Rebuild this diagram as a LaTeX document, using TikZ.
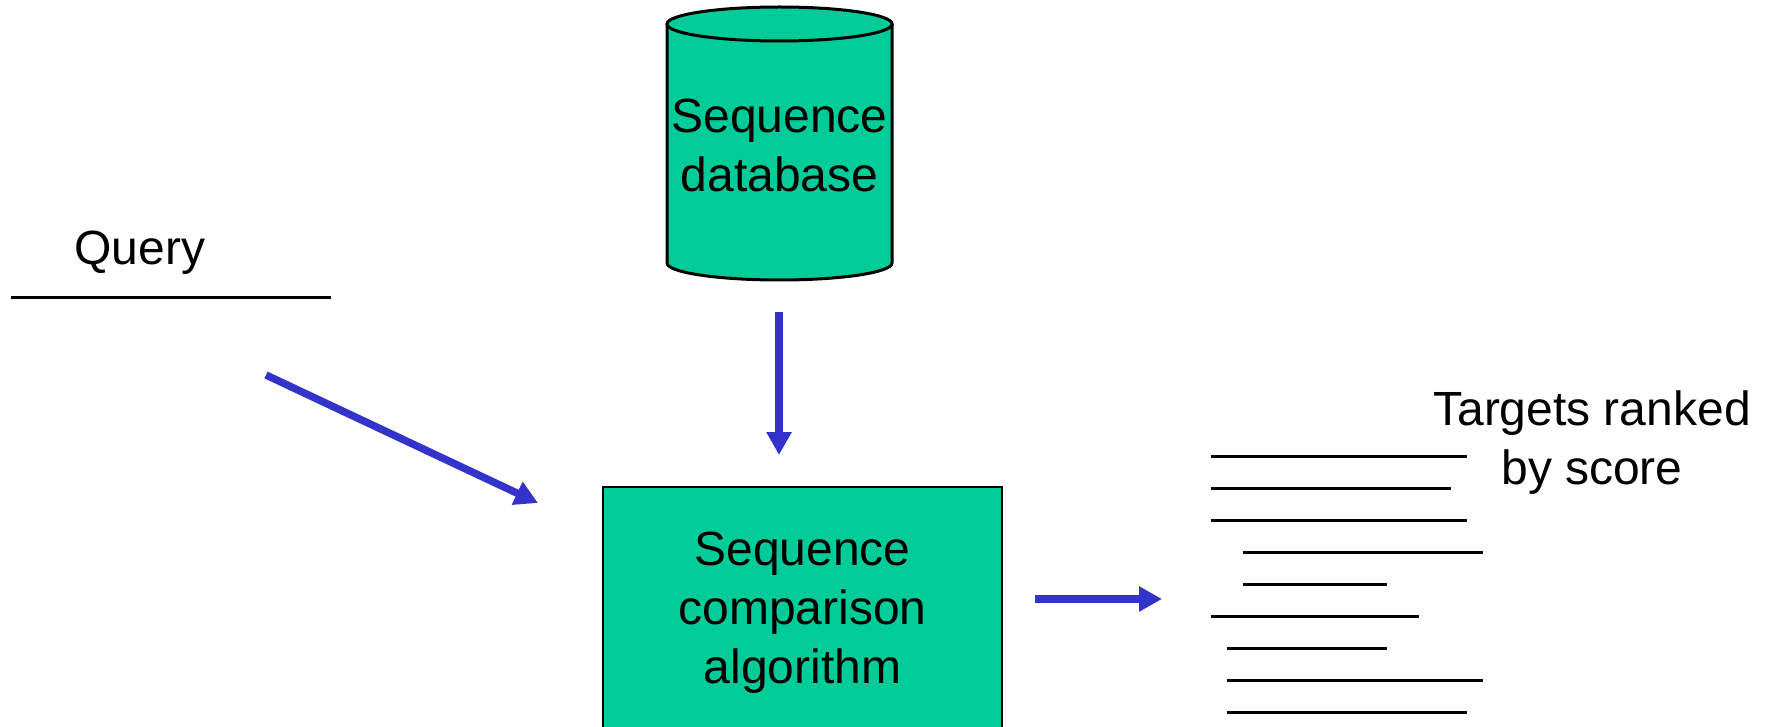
\documentclass[tikz,border=0pt]{standalone}
\usepackage{fontspec}
\setmainfont{Liberation Sans}
\usetikzlibrary{positioning, arrows.meta, calc}
\definecolor{dbgreen}{HTML}{00CC99}
\definecolor{flowblue}{HTML}{3333CC}

\begin{document}
\begin{tikzpicture}[
  x=0.5pt, y=-0.5pt,
  >={Triangle[length=11.5pt, width=12pt]},
  every node/.style={font=\fontsize{24}{29.5}\selectfont, inner sep=0pt},
  txt/.style     = {align=center},
  algobox/.style = {txt, draw=black, line width=1pt, fill=dbgreen, minimum width=199.5pt, minimum height=126pt},
  cyl/.style     = {draw=black, line width=1.5pt, fill=dbgreen},
  arr/.style     = {->, line width=3.75pt, flowblue},
  hit/.style     = {line width=1.5pt},
]
  \useasboundingbox (0,0) rectangle (1766,727);
  \clip (0,0) rectangle (1766,727);

  % database cylinder
  \path[cyl] (667,24) -- (667,263) arc[start angle=180, end angle=360, x radius=56.25pt, y radius=8.5pt] -- (892,24);
  \path[cyl] (779.5,24) ellipse[x radius=56.25pt, y radius=8.5pt];
  \node[txt] (db) at (779.5,145) {Sequence\\database};

  % query
  \node[anchor=base] (query) at (140,264) {Query};
  \draw[hit] (11,297) -- (331,297);

  % comparison box (runs off the bottom edge)
  \node[algobox] (algo) at (802.5,613) {Sequence\\comparison\\algorithm};

  % ranked hits
  \foreach \y/\xa/\xb in {456/1211/1467, 488/1211/1451, 520/1211/1467,
                          552/1243/1483, 584/1243/1387, 616/1211/1419,
                          648/1227/1387, 680/1227/1483, 712/1227/1467}
     \draw[hit] (\xa,\y) -- (\xb,\y);
  \node[txt] (ranked) at (1592,443) {Targets ranked\\by score};

  % flow arrows
  \coordinate (qfrom)   at (266,375);
  \coordinate (qto)     at (538,503);
  \coordinate (dbout)   at (779,312);
  \coordinate (algoin)  at (779,455);
  \coordinate (algoout) at (1035,599);
  \coordinate (hitsin)  at (1162,599);
  \foreach \a/\b in {qfrom/qto, dbout/algoin, algoout/hitsin}
     \draw[arr] (\a) -- (\b);
\end{tikzpicture}
\end{document}
